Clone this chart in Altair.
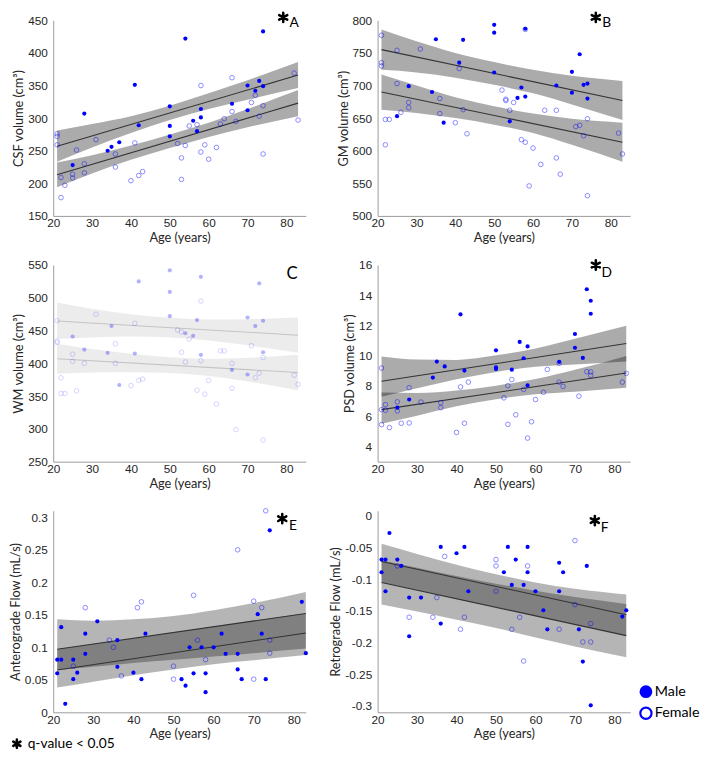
import altair as alt
import pandas as pd

BAND_AGES = [21, 30, 40, 50, 60, 70, 83]
LINE_AGES = [21, 83]
X_TICKS = [20, 30, 40, 50, 60, 70, 80]
LEGEND_LABELS = ["Male", "Female"]
NOTE_TEXT = "q-value < 0.05"

# ---------------- A : CSF volume ----------------
A_M_AGE = [25, 28, 34, 35, 37, 41, 42, 50, 50, 50, 54, 56, 57, 58, 58, 66, 70, 70, 72, 73, 74, 74]
A_M_VAL = [228, 307, 250, 256, 263, 351, 289, 318, 288, 272, 422, 296, 280, 314, 301, 322, 350, 312, 342, 357, 433, 349]
A_F_AGE = [21, 21, 21, 22, 22, 23, 25, 25, 26, 28, 28, 31, 36, 36, 40, 41, 42, 43, 52, 53, 53, 54, 55, 57, 58, 58,
           59, 60, 62, 63, 64, 66, 66, 67, 71, 72, 73, 74, 74, 82, 83]
A_F_VAL = [276, 272, 259, 209, 178, 197, 214, 208, 251, 230, 216, 267, 245, 225, 204, 262, 212, 218, 261, 239, 206,
           258, 288, 290, 350, 248, 259, 237, 255, 291, 299, 362, 310, 295, 324, 335, 303, 319, 245, 369, 297]
A_LINE_M = [257, 366]
A_LINE_F = [213, 323]
A_BAND_M_LO = [233, 255, 277, 297, 314, 328, 346]
A_BAND_M_HI = [281, 291, 303, 319, 338, 358, 386]
A_BAND_F_LO = [194, 215, 236, 254, 271, 286, 303]
A_BAND_F_HI = [232, 243, 258, 275, 293, 314, 343]

# ---------------- B : GM volume ----------------
B_M_AGE = [25, 28, 34, 35, 37, 41, 42, 50, 50, 50, 54, 56, 57, 58, 58, 66, 70, 70, 72, 73, 74, 74]
B_M_VAL = [653, 699, 690, 771, 643, 735, 770, 793, 781, 720, 645, 681, 697, 787, 683, 700, 721, 689, 748, 701, 703, 680]
B_F_AGE = [21, 21, 21, 22, 22, 23, 25, 25, 26, 28, 28, 31, 36, 36, 40, 41, 42, 43, 52, 53, 53, 54, 55, 57, 58, 58,
           59, 60, 62, 63, 66, 66, 67, 71, 72, 73, 74, 74, 82, 83]
B_F_VAL = [777, 735, 730, 648, 609, 648, 754, 703, 659, 674, 666, 756, 680, 657, 643, 726, 663, 626, 693, 679, 677,
           662, 674, 617, 786, 613, 546, 604, 579, 662, 662, 589, 564, 637, 639, 623, 649, 531, 627, 595]
B_LINE_M = [755, 677]
B_LINE_F = [690, 613]
B_BAND_M_LO = [724, 720, 712, 701, 688, 671, 647]
B_BAND_M_HI = [786, 768, 750, 736, 724, 715, 707]
B_BAND_F_LO = [663, 658, 650, 640, 627, 609, 583]
B_BAND_F_HI = [717, 700, 682, 668, 657, 649, 643]

# ---------------- C : WM volume ----------------
C_M_AGE = [25, 28, 34, 35, 37, 41, 42, 50, 50, 50, 54, 56, 57, 58, 58, 66, 70, 70, 72, 73, 74, 74]
C_M_VAL = [441, 421, 416, 457, 367, 415, 525, 542, 509, 472, 446, 442, 466, 532, 413, 390, 470, 383, 457, 522, 465, 417]
C_F_AGE = [21, 21, 21, 22, 22, 23, 25, 25, 26, 28, 31, 36, 36, 40, 41, 42, 43, 52, 53, 53, 54, 55, 57, 58, 58, 59,
           60, 62, 63, 64, 66, 66, 67, 71, 72, 73, 74, 74, 82, 83]
C_F_VAL = [465, 434, 432, 378, 354, 354, 414, 403, 358, 400, 475, 430, 400, 366, 461, 374, 376, 451, 448, 417, 402,
           437, 359, 495, 404, 353, 374, 338, 419, 419, 400, 362, 299, 427, 378, 385, 409, 283, 382, 368]
C_LINE_M = [464.7, 443]
C_LINE_F = [407, 386]
C_BAND_M_LO = [437, 439.5, 441, 439.5, 435, 427.5, 416]
C_BAND_M_HI = [493, 483.5, 475, 469.5, 467, 467.5, 470]
C_BAND_F_LO = [384, 386, 386.6, 385.2, 380.8, 372.4, 359]
C_BAND_F_HI = [430, 422, 414.6, 409.2, 406.8, 408.4, 413]

# ---------------- D : PSD volume ----------------
D_M_AGE = [25, 28, 34, 35, 37, 41, 42, 50, 50, 50, 54, 56, 57, 58, 58, 66, 70, 70, 72, 73, 74, 74]
D_M_VAL = [6.57, 7.11, 8.56, 9.62, 9.30, 12.74, 9.02, 10.36, 9.23, 9.12, 9.08, 10.92, 9.84, 10.62, 8.04, 9.60,
           11.44, 10.53, 9.86, 14.40, 13.64, 12.78]
D_F_AGE = [21, 21, 21, 22, 22, 23, 25, 25, 26, 28, 28, 31, 36, 36, 40, 41, 42, 43, 52, 53, 53, 54, 55, 57, 58, 59,
           60, 62, 63, 66, 66, 67, 71, 73, 74, 74, 82, 83]
D_F_VAL = [9.19, 6.44, 5.45, 6.77, 6.40, 5.25, 6.96, 6.36, 5.54, 7.89, 5.56, 6.94, 6.90, 6.57, 4.93, 7.94, 5.54,
           8.26, 7.22, 8.02, 5.47, 8.43, 6.10, 7.78, 4.56, 5.64, 7.11, 7.59, 9.10, 9.51, 8.26, 7.98, 7.33, 8.95,
           8.93, 8.71, 8.26, 8.84]
D_LINE_M = [8.32, 10.81]
D_LINE_F = [6.44, 8.86]
D_BAND_M_LO = [7.30, 7.85, 8.45, 8.93, 9.28, 9.43, 9.62]
D_BAND_M_HI = [9.95, 9.75, 9.73, 10.03, 10.48, 11.13, 11.98]
D_BAND_F_LO = [5.51, 6.04, 6.66, 7.12, 7.46, 7.63, 7.89]
D_BAND_F_HI = [7.57, 7.54, 7.70, 8.02, 8.46, 9.07, 9.99]

# ---------------- E : Anterograde flow ----------------
E_M_AGE = [21, 21, 22, 22, 23, 25, 25, 26, 28, 28, 31, 36, 36, 40, 42, 43, 52, 53, 54, 55, 57, 58, 58, 60, 62, 63,
           66, 66, 67, 71, 72, 73, 74, 82, 83]
E_M_VAL = [0.060, 0.081, 0.131, 0.081, 0.013, 0.081, 0.051, 0.061, 0.121, 0.090, 0.140, 0.111, 0.070, 0.061, 0.051,
           0.121, 0.051, 0.041, 0.100, 0.060, 0.100, 0.060, 0.031, 0.100, 0.121, 0.090, 0.090, 0.066, 0.051, 0.151,
           0.121, 0.051, 0.280, 0.170, 0.091]
E_F_AGE = [25, 28, 34, 35, 37, 41, 42, 50, 50, 55, 56, 58, 66, 70, 70, 72, 73, 74, 74]
E_F_VAL = [0.071, 0.161, 0.111, 0.100, 0.056, 0.161, 0.170, 0.071, 0.051, 0.180, 0.111, 0.081, 0.250, 0.171, 0.051,
           0.161, 0.310, 0.111, 0.091]
E_LINE_1 = [0.097, 0.152]
E_LINE_2 = [0.065, 0.122]
E_BAND_1_LO = [0.065, 0.070, 0.076, 0.081, 0.086, 0.091, 0.098]
E_BAND_1_HI = [0.143, 0.141, 0.143, 0.148, 0.157, 0.168, 0.185]
E_BAND_2_LO = [0.038, 0.047, 0.057, 0.066, 0.074, 0.080, 0.088]
E_BAND_2_HI = [0.097, 0.105, 0.114, 0.123, 0.132, 0.141, 0.152]

# ---------------- F : Retrograde flow ----------------
F_M_AGE = [21, 21, 22, 22, 23, 25, 26, 28, 28, 31, 36, 36, 40, 42, 43, 52, 53, 54, 55, 57, 58, 58, 60, 62, 63, 66,
           66, 67, 71, 72, 73, 74, 82, 83]
F_M_VAL = [-0.069, -0.089, -0.069, -0.119, -0.027, -0.069, -0.079, -0.129, -0.190, -0.129, -0.049, -0.170, -0.059,
           -0.049, -0.119, -0.089, -0.049, -0.109, -0.069, -0.109, -0.049, -0.089, -0.119, -0.149, -0.179, -0.074,
           -0.119, -0.089, -0.179, -0.230, -0.079, -0.299, -0.159, -0.149]
F_F_AGE = [25, 28, 34, 35, 37, 41, 42, 50, 50, 50, 54, 56, 57, 58, 66, 70, 70, 72, 74, 74]
F_F_VAL = [-0.079, -0.160, -0.160, -0.129, -0.064, -0.179, -0.160, -0.069, -0.079, -0.119, -0.179, -0.160, -0.229,
           -0.079, -0.179, -0.039, -0.140, -0.199, -0.170, -0.199]
F_LINE_1 = [-0.072, -0.156]
F_LINE_2 = [-0.105, -0.189]
F_BAND_1_LO = [-0.105, -0.117, -0.131, -0.144, -0.158, -0.171, -0.189]
F_BAND_1_HI = [-0.044, -0.060, -0.077, -0.092, -0.105, -0.115, -0.124]
F_BAND_2_LO = [-0.140, -0.151, -0.164, -0.177, -0.192, -0.206, -0.223]
F_BAND_2_HI = [-0.070, -0.082, -0.095, -0.107, -0.118, -0.128, -0.139]

BLUE = "#0000ff"
ASTERISK = "M0,-1L0,1M-0.866,-0.5L0.866,0.5M-0.866,0.5L0.866,-0.5"
TITLE_FONT = "Lato"
LABEL_FONT = "Liberation Sans"
PANEL_W = 257


def xenc(xmax):
    return alt.X("age:Q", scale=alt.Scale(domain=[20, xmax], nice=False, zero=False),
                 axis=alt.Axis(values=X_TICKS, title="Age (years)", labelPadding=2, titlePadding=3))


def yenc(field, domain, ticks, title, expr=None):
    ax = dict(values=ticks, title=title, labelPadding=6, titlePadding=2)
    if expr:
        ax["labelExpr"] = expr
    return alt.Y(field + ":Q", scale=alt.Scale(domain=domain, nice=False, zero=False), axis=alt.Axis(**ax))


def star(px, py, size=90):
    return alt.Chart(pd.DataFrame({"k": [0]})).mark_point(
        shape=ASTERISK, filled=False, size=size, strokeWidth=2.6, color="black", opacity=1, strokeCap="round"
    ).encode(x=alt.value(px), y=alt.value(py))


def label(text, px, py, size=14, align="center"):
    return alt.Chart(pd.DataFrame({"t": [text]})).mark_text(
        font=TITLE_FONT, fontSize=size, align=align, baseline="middle", color="black"
    ).encode(text="t:N", x=alt.value(px), y=alt.value(py))


def panel(m_age, m_val, f_age, f_val, l1, l2, b1lo, b1hi, b2lo, b2hi, xmax, domain, ticks, title,
          height, band_op, line_col, m_op, f_op, extras, expr=None):
    pts_m = pd.DataFrame({"age": m_age, "val": m_val})
    pts_f = pd.DataFrame({"age": f_age, "val": f_val})
    bands = pd.DataFrame({"age": BAND_AGES * 2, "lo": b1lo + b2lo, "hi": b1hi + b2hi,
                          "g": ["a"] * len(BAND_AGES) + ["b"] * len(BAND_AGES)})
    lines = pd.DataFrame({"age": LINE_AGES * 2, "fit": l1 + l2, "g": ["a", "a", "b", "b"]})
    X = xenc(xmax)

    band = alt.Chart(bands).mark_area(color="black", opacity=band_op, interpolate="monotone").encode(
        x=X, y=yenc("lo", domain, ticks, title, expr), y2="hi", detail="g:N")
    line = alt.Chart(lines).mark_line(color=line_col, strokeWidth=1.1).encode(
        x=X, y=yenc("fit", domain, ticks, title, expr), detail="g:N")
    fem = alt.Chart(pts_f).mark_point(shape="circle", size=22, filled=False, color=BLUE, strokeWidth=0.9,
                                      opacity=f_op).encode(x=X, y=yenc("val", domain, ticks, title, expr))
    mal = alt.Chart(pts_m).mark_circle(size=18, color=BLUE, opacity=m_op).encode(
        x=X, y=yenc("val", domain, ticks, title, expr))
    return alt.layer(band, line, fem, mal, *extras).properties(width=PANEL_W, height=height)


pA = panel(A_M_AGE, A_M_VAL, A_F_AGE, A_F_VAL, A_LINE_M, A_LINE_F, A_BAND_M_LO, A_BAND_M_HI, A_BAND_F_LO,
           A_BAND_F_HI, 85, [150, 450], [150, 200, 250, 300, 350, 400, 450], "CSF volume (cm³)",
           199, 0.33, "#333333", 1, 0.5, [star(234, -3), label("A", 245, 3)])
pB = panel(B_M_AGE, B_M_VAL, B_F_AGE, B_F_VAL, B_LINE_M, B_LINE_F, B_BAND_M_LO, B_BAND_M_HI, B_BAND_F_LO,
           B_BAND_F_HI, 85, [500, 800], [500, 550, 600, 650, 700, 750, 800], "GM volume (cm³)",
           199, 0.33, "#333333", 1, 0.5, [star(222, -3), label("B", 233, 3)])
pC = panel(C_M_AGE, C_M_VAL, C_F_AGE, C_F_VAL, C_LINE_M, C_LINE_F, C_BAND_M_LO, C_BAND_M_HI, C_BAND_F_LO,
           C_BAND_F_HI, 85, [250, 550], [250, 300, 350, 400, 450, 500, 550], "WM volume (cm³)",
           200, 0.075, "#c4c4c4", 0.3, 0.18, [label("C", 243, 9, size=17)])
pD = panel(D_M_AGE, D_M_VAL, D_F_AGE, D_F_VAL, D_LINE_M, D_LINE_F, D_BAND_M_LO, D_BAND_M_HI, D_BAND_F_LO,
           D_BAND_F_HI, 84, [3, 16], [4, 6, 8, 10, 12, 14, 16], "PSD volume (cm³)",
           200, 0.33, "#333333", 1, 0.5, [star(222, 0), label("D", 233, 8)])
pE = panel(E_M_AGE, E_M_VAL, E_F_AGE, E_F_VAL, E_LINE_1, E_LINE_2, E_BAND_1_LO, E_BAND_1_HI, E_BAND_2_LO,
           E_BAND_2_HI, 83, [0, 0.31], [0, 0.05, 0.1, 0.15, 0.2, 0.25, 0.3], "Anterograde Flow (mL/s)",
           205, 0.29, "#333333", 1, 0.5,
           [star(233, 8), label("E", 244, 16), star(-37, 237, size=70),
            label(NOTE_TEXT, -26, 237, size=14, align="left")],
           expr="'' + datum.value")

leg_m = alt.Chart(pd.DataFrame({"t": [LEGEND_LABELS[0]]})).mark_circle(size=170, color=BLUE, opacity=1).encode(
    x=alt.value(273), y=alt.value(184))
leg_f = alt.Chart(pd.DataFrame({"t": [LEGEND_LABELS[1]]})).mark_point(
    shape="circle", size=130, filled=False, color=BLUE, strokeWidth=2.2, opacity=1).encode(
    x=alt.value(273), y=alt.value(206))
leg_t1 = label(LEGEND_LABELS[0], 282, 184, size=14.5, align="left")
leg_t2 = label(LEGEND_LABELS[1], 282, 206, size=14.5, align="left")

pF = panel(F_M_AGE, F_M_VAL, F_F_AGE, F_F_VAL, F_LINE_1, F_LINE_2, F_BAND_1_LO, F_BAND_1_HI, F_BAND_2_LO,
           F_BAND_2_HI, 84, [-0.31, 0.008], [-0.3, -0.25, -0.2, -0.15, -0.1, -0.05, 0], "Retrograde Flow (mL/s)",
           205, 0.29, "#333333", 1, 0.5,
           [star(221, 10), label("F", 231, 18), leg_m, leg_f, leg_t1, leg_t2], expr="'' + datum.value")

chart = alt.concat(pA, pB, pC, pD, pE, pF, columns=2, spacing={"row": 50, "column": 73},
                   bounds="flush", align="each").properties(
    padding={"left": 0, "top": -7, "right": 0, "bottom": 0}, background="white"
).configure_view(stroke=None).configure_axis(
    labelFont=LABEL_FONT, labelFontSize=12, labelColor="#262626", labelFlush=False, labelOverlap=False,
    titleFont=TITLE_FONT, titleFontSize=13, titleFontWeight="normal", titleColor="#262626",
    domainColor="#9a9a9a", ticks=False, grid=False
)

chart.save("out.html", embed_options={"renderer": "svg", "actions": False})
